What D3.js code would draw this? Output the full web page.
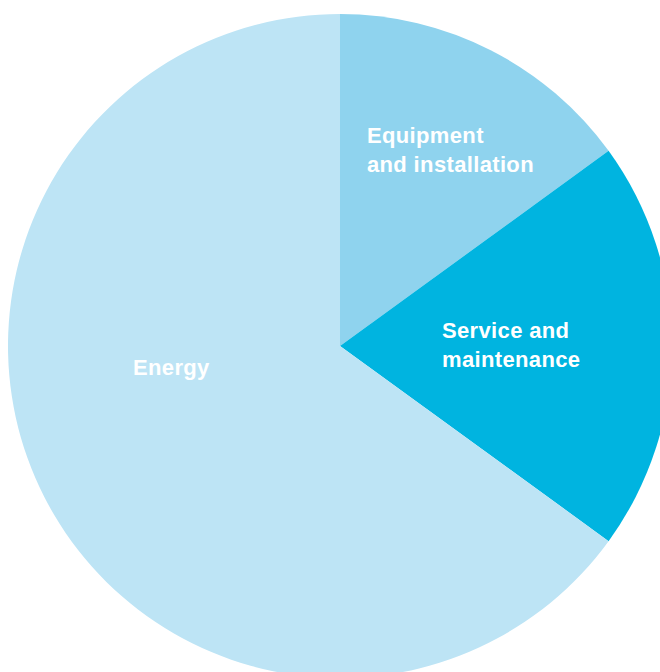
<!DOCTYPE html>
<html>
<head>
<meta charset="utf-8">
<script src="https://cdn.jsdelivr.net/npm/d3@7"></script>
<style>
  html, body { margin: 0; padding: 0; background: #ffffff; }
  svg { display: block; }
  .label { font-family: "Liberation Sans", Arial, Helvetica, sans-serif; font-weight: bold; fill: #ffffff; letter-spacing: 0.35px; }
</style>
</head>
<body>
<svg id="chart" width="660" height="672"></svg>
<script>
// Cost breakdown shares (percent), clockwise from 12 o'clock
const categories = ["Equipment and installation", "Service and maintenance", "Energy"];
const shares = [15, 20, 65];
const labelLines = [["Equipment", "and installation"], ["Service and", "maintenance"], ["Energy"]];
const colors = ["#8fd3ee", "#00b4e0", "#bde4f5"];

const width = 660, height = 672;
const cx = 340, cy = 346, radius = 332;

const svg = d3.select("#chart");
const g = svg.append("g").attr("transform", `translate(${cx},${cy})`);

const pie = d3.pie().sort(null).value(d => d.value);
const arcs = pie(categories.map((c, i) => ({ name: c, value: shares[i], lines: labelLines[i], color: colors[i] })));

const arc = d3.arc().innerRadius(0).outerRadius(radius);

g.selectAll("path.slice")
  .data(arcs)
  .join("path")
  .attr("class", "slice")
  .attr("d", arc)
  .attr("fill", d => d.data.color);

// Label anchors: left edge of the text block and first baseline, relative to the pie centre
const labelAnchor = [
  { dx: 27, dy: -203 },
  { dx: 102, dy: -8 },
  { dx: -207, dy: 29 }
];
const fontSize = 22, lineGap = 29;

const labels = g.selectAll("text.label")
  .data(arcs)
  .join("text")
  .attr("class", "label")
  .attr("font-size", fontSize)
  .attr("x", (d, i) => labelAnchor[i].dx)
  .attr("y", (d, i) => labelAnchor[i].dy);

labels.selectAll("tspan")
  .data((d, i) => d.data.lines.map((t, j) => ({ t, j, x: labelAnchor[i].dx })))
  .join("tspan")
  .attr("x", d => d.x)
  .attr("dy", d => d.j === 0 ? 0 : lineGap)
  .text(d => d.t);
</script>
</body>
</html>
